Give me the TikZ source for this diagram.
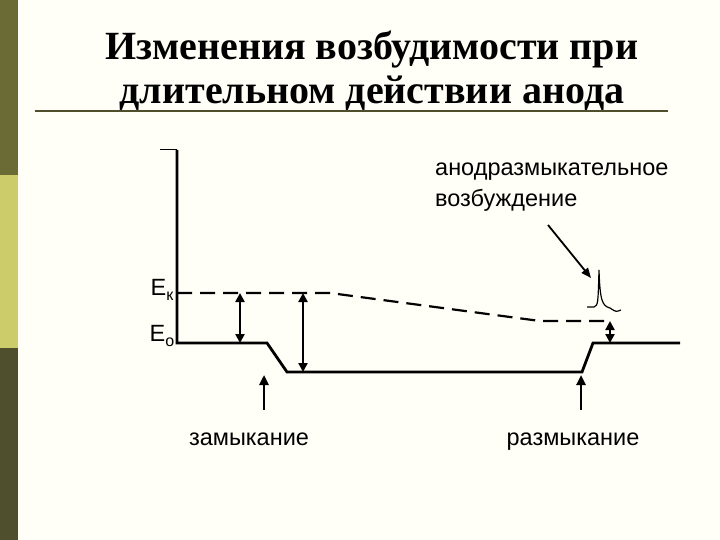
\documentclass[tikz,border=0pt]{standalone}
\usepackage{fontspec}
\setmainfont{Liberation Serif}
\newfontfamily\sansf{Liberation Sans}
\usetikzlibrary{arrows.meta}
\definecolor{bg}{HTML}{FFFFF8}
\definecolor{oliveA}{HTML}{6B6B35}
\definecolor{oliveB}{HTML}{CCCC6A}
\definecolor{oliveC}{HTML}{4F4F2E}
\tikzset{
 curve/.style={line width=2.8pt,line join=miter},
 dashline/.style={line width=2.2pt,dash pattern=on 15pt off 8pt},
 dbl/.style={line width=2.4pt,{Triangle[length=9pt,width=9pt]}-{Triangle[length=9pt,width=9pt]}},
 up/.style={line width=2.4pt,-{Triangle[length=10pt,width=9pt]}},
 lbl/.style={font=\sansf\fontsize{23.5}{28}\selectfont,inner sep=0pt},
 ttl/.style={font=\bfseries\fontsize{40}{44}\selectfont,inner sep=0pt}
}
\begin{document}
\begin{tikzpicture}[x=1pt,y=-1pt]
\useasboundingbox (0,0) rectangle (720,540);
\fill[bg] (0,0) rectangle (720,540);
\fill[oliveA] (0,0) rectangle (18,175);
\fill[oliveB] (0,175) rectangle (18,348);
\fill[oliveC] (0,348) rectangle (18,540);
\node[ttl] (t1) at (372,50) {Изменения возбудимости при};
\node[ttl] (t2) at (372,93) {длительном действии анода};
\draw[oliveC,line width=2.5pt] (35,111) -- (668,111);
% axis
\coordinate (atop) at (160,150);
\draw[line width=1pt] (atop) -- (177,150);
\draw[curve] (177,150) -- (177,343) -- (267,343) -- (287,372) -- (582,372) -- (593,343) -- (680,343);
\draw[dashline] (177,293) -- (330,293) -- (540,321) -- (610,321);
% spike
\draw[line width=1.2pt] (587,307) -- (594,307) .. controls (598,305) .. (599,270) .. controls (600,300) and (602,306) .. (610,308) .. controls (616,312) .. (621,310);
\draw[dbl] (240,293) -- (240,343);
\draw[dbl] (303,293) -- (303,372);
\draw[dbl] (610,321) -- (610,343);
\coordinate (u1) at (264,410);
\coordinate (u2) at (581,410);
\draw[up] (u1) -- (264,375);
\draw[up] (u2) -- (581,375);
\node[lbl,anchor=west] (an1) at (435,172) {анодразмыкательное};
\node[lbl,anchor=west] (an2) at (435,200) {возбуждение};
\draw[line width=1.8pt,-{Triangle[length=10pt,width=8pt]}] (548,225) -- (591,278);
\node[lbl] (ek) at (162,290) {E\raisebox{-5pt}{\fontsize{16}{16}\selectfont к}};
\node[lbl] (eo) at (162,336) {E\raisebox{-5pt}{\fontsize{16}{16}\selectfont о}};
\node[lbl,anchor=base] (z) at (249,445) {замыкание};
\node[lbl,anchor=base] (r) at (573,445) {размыкание};
\end{tikzpicture}
\end{document}
